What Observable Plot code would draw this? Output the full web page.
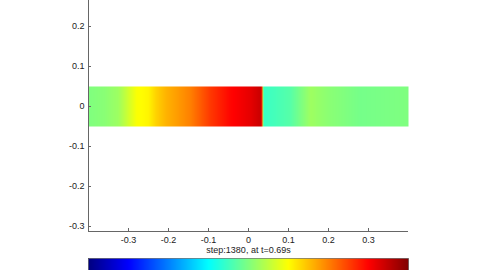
<!DOCTYPE html>
<html>
<head>
<meta charset="utf-8">
<script src="https://cdn.jsdelivr.net/npm/d3@7"></script>
<script src="https://cdn.jsdelivr.net/npm/@observablehq/plot@0.6"></script>
<style>
  html, body { margin: 0; padding: 0; background: #fff; }
  #chart svg { display: block; }
</style>
</head>
<body>
<div id="chart"></div>
<script>
// Profile along the strip (x position) and its colour value (0..1 on the jet map)
const profileX = [-0.4, -0.36, -0.325, -0.3, -0.28, -0.25, -0.23, -0.205, -0.18, -0.145, -0.095, -0.045, 0.005, 0.033,
                  0.037, 0.105, 0.155, 0.205, 0.28, 0.4];
const profileV = [0.50, 0.51, 0.53, 0.58, 0.62, 0.635, 0.67, 0.70, 0.72, 0.75, 0.82, 0.87, 0.90, 0.93,
                  0.43, 0.46, 0.53, 0.51, 0.49, 0.50];
const stripY = [-0.05, 0.05];
const xDomain = [-0.4, 0.4];
const yDomain = [-0.3125, 0.265];
const xTicks = [-0.3, -0.2, -0.1, 0, 0.1, 0.2, 0.3];
const yTicks = [-0.3, -0.2, -0.1, 0, 0.1, 0.2];
const jetStops = [0, 0.125, 0.375, 0.625, 0.875, 1];
const jetColors = ["#000080", "#0000ff", "#00ffff", "#ffff00", "#ff0000", "#800000"];
const title = "step:1380, at t=0.69s";

const cells = stripY.flatMap(y => profileX.map((x, i) => ({x, y, v: profileV[i]})));
const colorOpts = {type: "linear", domain: jetStops, range: jetColors, interpolate: "rgb", clamp: true};
const fmt = d => String(d);
const axisColor = "#666";

const main = Plot.plot({
  width: 480, height: 258,
  marginTop: 0, marginLeft: 88, marginRight: 72, marginBottom: 27,
  x: {domain: xDomain},
  y: {domain: yDomain},
  color: colorOpts,
  style: {fontFamily: "'Liberation Sans', Arial, sans-serif", fontSize: "9px", color: "#222", background: "white"},
  marks: [
    Plot.raster(cells, {x: "x", y: "y", fill: "v", x1: xDomain[0], x2: xDomain[1], y1: stripY[0], y2: stripY[1], interpolate: "barycentric"}),
    Plot.ruleX([xDomain[0]], {stroke: axisColor}),
    Plot.ruleY([yDomain[0]], {stroke: axisColor}),
    Plot.axisX({ticks: xTicks, tickSize: 0, tickPadding: 5, tickFormat: fmt, label: null}),
    Plot.axisX({ticks: xTicks, tickSize: 3, dy: -3, fill: "none", stroke: axisColor, label: null}),
    Plot.axisY({ticks: yTicks, tickSize: 0, tickPadding: 4, tickFormat: fmt, label: null}),
    Plot.axisY({ticks: yTicks, tickSize: 3, dx: 3, fill: "none", stroke: axisColor, label: null}),
    Plot.text([title], {frameAnchor: "bottom", dy: 21, text: d => d, fill: "#222"})
  ]
});

const bar = Plot.plot({
  width: 480, height: 12,
  marginTop: 0, marginBottom: 0, marginLeft: 88, marginRight: 72,
  x: {domain: [0, 1], axis: null},
  y: {domain: [0, 1], axis: null},
  color: colorOpts,
  style: {background: "white"},
  marks: [
    Plot.raster({fill: (x, y) => x, x1: 0, x2: 1, y1: 0, y2: 1}),
    Plot.frame({stroke: "#333", strokeWidth: 0.5})
  ]
});

const el = document.getElementById("chart");
el.appendChild(main);
el.appendChild(bar);
</script>
</body>
</html>
